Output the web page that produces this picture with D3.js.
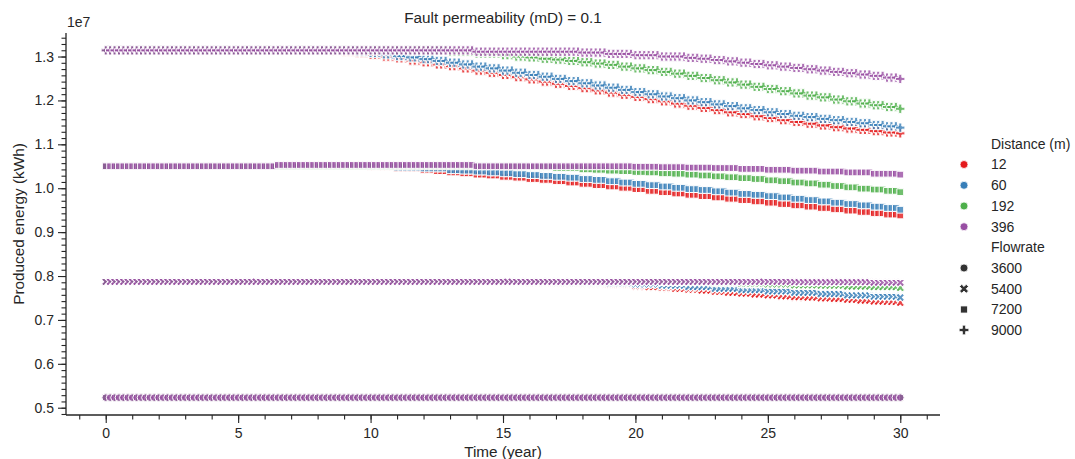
<!DOCTYPE html>
<html>
<head>
<meta charset="utf-8">
<script src="https://cdn.jsdelivr.net/npm/d3@7"></script>
<style>
  body { margin: 0; background: #fff; }
  text { font-family: "Liberation Sans", Arial, sans-serif; fill: #262626; }
</style>
</head>
<body>
<svg id="chart" width="1075" height="459"></svg>
<script>
// ---- categories and axis ticks ----
const distances = [12, 60, 192, 396];            // hue: Distance (m)
const flowrates = [3600, 5400, 7200, 9000];      // style: Flowrate
const distanceColors = ["#e41a1c", "#377eb8", "#4daf4a", "#984ea3"];
const xTickValues = [0, 5, 10, 15, 20, 25, 30];
const yTickValues = [0.5, 0.6, 0.7, 0.8, 0.9, 1.0, 1.1, 1.2, 1.3];
const yTickLabels = ["0.5", "0.6", "0.7", "0.8", "0.9", "1.0", "1.1", "1.2", "1.3"];

// Simulation output is reported every two months over 30 years.
const samplesPerYear = 6;
const simulatedYears = 30;

// Produced energy in units of 1e7 kWh, stored as [year the level starts, level].
// Each level holds until the next entry.
const q3600_d12  = [[0, 0.523], [27, 0.522]];
const q3600_d60  = [[0, 0.523]];
const q3600_d192 = [[0, 0.523]];
const q3600_d396 = [[0, 0.523]];

const q5400_d12  = [[0, 0.787], [15, 0.786], [16, 0.785], [17, 0.784], [18, 0.782], [19, 0.780], [20, 0.777],
                    [20.5, 0.775], [21, 0.773], [21.5, 0.771], [22, 0.769], [22.5, 0.767], [23, 0.764], [23.5, 0.762],
                    [24, 0.760], [24.5, 0.758], [25, 0.756], [25.5, 0.754], [26, 0.752], [26.5, 0.751], [27, 0.749],
                    [27.5, 0.748], [28, 0.746], [28.5, 0.744], [29, 0.742], [29.5, 0.741], [30, 0.739]];
const q5400_d60  = [[0, 0.787], [16, 0.786], [17, 0.785], [18, 0.784], [19, 0.783], [20, 0.781], [21, 0.778],
                    [22, 0.775], [23, 0.771], [24, 0.768], [25, 0.765], [26, 0.762], [27, 0.759], [28, 0.756],
                    [29, 0.753], [30, 0.751]];
const q5400_d192 = [[0, 0.787], [21, 0.786], [22, 0.785], [23, 0.784], [24, 0.782], [25, 0.781], [26, 0.779],
                    [27, 0.778], [28, 0.776], [29, 0.775], [30, 0.773]];
const q5400_d396 = [[0, 0.787], [26, 0.786], [29, 0.785]];

const q7200_d12  = [[0, 1.050], [10, 1.048], [11, 1.045], [12, 1.041], [12.5, 1.039], [13, 1.036], [13.5, 1.034],
                    [14, 1.031], [14.5, 1.029], [15, 1.026], [15.5, 1.024], [16, 1.021], [16.5, 1.019], [17, 1.016],
                    [17.5, 1.013], [18, 1.010], [18.5, 1.007], [19, 1.004], [19.5, 1.001], [20, 0.998], [20.5, 0.994],
                    [21, 0.991], [21.5, 0.988], [22, 0.985], [22.5, 0.982], [23, 0.979], [23.5, 0.976], [24, 0.973],
                    [24.5, 0.970], [25, 0.967], [25.5, 0.964], [26, 0.961], [26.5, 0.958], [27, 0.955], [27.5, 0.952],
                    [28, 0.949], [28.5, 0.946], [29, 0.943], [29.5, 0.940], [30, 0.938]];
const q7200_d60  = [[0, 1.050], [11, 1.047], [12, 1.045], [13, 1.041], [13.5, 1.040], [14, 1.038], [14.5, 1.036],
                    [15, 1.034], [15.5, 1.032], [16, 1.030], [16.5, 1.028], [17, 1.026], [17.5, 1.024], [18, 1.021],
                    [18.5, 1.019], [19, 1.016], [19.5, 1.013], [20, 1.010], [20.5, 1.007], [21, 1.004], [21.5, 1.001],
                    [22, 0.998], [22.5, 0.996], [23, 0.993], [23.5, 0.990], [24, 0.987], [24.5, 0.985], [25, 0.982],
                    [25.5, 0.979], [26, 0.976], [26.5, 0.973], [27, 0.970], [27.5, 0.967], [28, 0.964], [28.5, 0.961],
                    [29, 0.958], [29.5, 0.955], [30, 0.951]];
const q7200_d192 = [[0, 1.050], [16, 1.048], [17, 1.046], [18, 1.043], [18.5, 1.042], [19, 1.040], [19.5, 1.039],
                    [20, 1.037], [20.5, 1.036], [21, 1.034], [21.5, 1.033], [22, 1.031], [22.5, 1.029], [23, 1.027],
                    [23.5, 1.025], [24, 1.023], [24.5, 1.021], [25, 1.018], [25.5, 1.016], [26, 1.013], [26.5, 1.011],
                    [27, 1.008], [27.5, 1.005], [28, 1.002], [28.5, 0.999], [29, 0.997], [29.5, 0.994], [30, 0.991]];
const q7200_d396 = [[0, 1.050], [6.5, 1.053], [14, 1.050], [20, 1.049], [21, 1.048], [22, 1.047], [23, 1.046],
                    [24, 1.044], [25, 1.042], [26, 1.040], [27, 1.038], [28, 1.036], [29, 1.033], [30, 1.031]];

const q9000_d12  = [[0, 1.314], [8.5, 1.313], [9, 1.311], [9.5, 1.308], [10, 1.304], [10.5, 1.300], [11, 1.296],
                    [11.5, 1.291], [12, 1.287], [12.5, 1.282], [13, 1.278], [13.5, 1.273], [14, 1.268], [14.5, 1.263],
                    [15, 1.258], [15.5, 1.253], [16, 1.248], [16.5, 1.243], [17, 1.238], [17.5, 1.233], [18, 1.228],
                    [18.5, 1.223], [19, 1.218], [19.5, 1.213], [20, 1.208], [20.5, 1.203], [21, 1.198], [21.5, 1.193],
                    [22, 1.188], [22.5, 1.183], [23, 1.178], [23.5, 1.173], [24, 1.169], [24.5, 1.164], [25, 1.160],
                    [25.5, 1.155], [26, 1.151], [26.5, 1.147], [27, 1.143], [27.5, 1.139], [28, 1.136], [28.5, 1.133],
                    [29, 1.130], [29.5, 1.127], [30, 1.125]];
const q9000_d60  = [[0, 1.314], [9.5, 1.311], [10, 1.308], [10.5, 1.305], [11, 1.301], [11.5, 1.298], [12, 1.294],
                    [12.5, 1.290], [13, 1.286], [13.5, 1.282], [14, 1.277], [14.5, 1.273], [15, 1.268], [15.5, 1.263],
                    [16, 1.258], [16.5, 1.254], [17, 1.249], [17.5, 1.244], [18, 1.239], [18.5, 1.234], [19, 1.229],
                    [19.5, 1.224], [20, 1.219], [20.5, 1.214], [21, 1.209], [21.5, 1.205], [22, 1.200], [22.5, 1.196],
                    [23, 1.191], [23.5, 1.187], [24, 1.182], [24.5, 1.178], [25, 1.173], [25.5, 1.169], [26, 1.165],
                    [26.5, 1.162], [27, 1.158], [27.5, 1.155], [28, 1.151], [28.5, 1.148], [29, 1.144], [29.5, 1.141],
                    [30, 1.138]];
const q9000_d192 = [[0, 1.314], [13, 1.311], [14, 1.307], [15, 1.303], [15.5, 1.300], [16, 1.298], [16.5, 1.295],
                    [17, 1.293], [17.5, 1.290], [18, 1.287], [18.5, 1.284], [19, 1.281], [19.5, 1.277], [20, 1.273],
                    [20.5, 1.269], [21, 1.265], [21.5, 1.261], [22, 1.256], [22.5, 1.251], [23, 1.246], [23.5, 1.241],
                    [24, 1.236], [24.5, 1.231], [25, 1.226], [25.5, 1.221], [26, 1.216], [26.5, 1.211], [27, 1.207],
                    [27.5, 1.202], [28, 1.198], [28.5, 1.193], [29, 1.189], [29.5, 1.185], [30, 1.181]];
const q9000_d396 = [[0, 1.314], [14, 1.311], [18, 1.309], [19, 1.306], [20, 1.303], [21, 1.300], [22, 1.297],
                    [22.5, 1.295], [23, 1.292], [23.5, 1.289], [24, 1.286], [24.5, 1.283], [25, 1.280], [25.5, 1.277],
                    [26, 1.274], [26.5, 1.271], [27, 1.268], [27.5, 1.265], [28, 1.262], [28.5, 1.259], [29, 1.256],
                    [29.5, 1.252], [30, 1.249]];

// Level lists grouped by distance (draw order: 12 m first, 396 m on top), then flowrate.
const levelsByDistance = [
  [q3600_d12,  q5400_d12,  q7200_d12,  q9000_d12],
  [q3600_d60,  q5400_d60,  q7200_d60,  q9000_d60],
  [q3600_d192, q5400_d192, q7200_d192, q9000_d192],
  [q3600_d396, q5400_d396, q7200_d396, q9000_d396]
];

// ---- layout ----
const svg = d3.select("#chart");
const plot = { left: 66, right: 940, top: 33, bottom: 415 };
const ink = "#262626";
const fontFamily = "'Liberation Sans', Arial, sans-serif";

const x = d3.scaleLinear().domain([-1.5, 31.5]).range([plot.left, plot.right]);
const y = d3.scaleLinear().domain([0.4834, 1.3536]).range([plot.bottom, plot.top]);
const color = d3.scaleOrdinal().domain(distances).range(distanceColors);

// Marker shapes per flowrate: circle, filled X, square, filled plus
const shapeOf = {
  3600: { type: d3.symbolCircle, size: 46, rotate: 0 },
  5400: { type: d3.symbolCross,  size: 46, rotate: 45 },
  7200: { type: d3.symbolSquare, size: 46, rotate: 0 },
  9000: { type: d3.symbolCross,  size: 48, rotate: 0 }
};
const symbolPath = f => d3.symbol().type(shapeOf[f].type).size(shapeOf[f].size)();

// Expand a list of level changes into one record per reporting time.
function seriesPoints(levels, distance, flowrate) {
  const pts = [];
  for (let i = 0; i <= simulatedYears * samplesPerYear; i++) {
    const t = i / samplesPerYear;
    let v = levels[0][1];
    for (const [start, level] of levels) if (start <= t + 1e-9) v = level;
    pts.push({ t, v, distance, flowrate });
  }
  return pts;
}

const points = [];
distances.forEach((d, di) => {
  flowrates.forEach((f, fi) => {
    points.push(...seriesPoints(levelsByDistance[di][fi], d, f));
  });
});

// ---- scatter marks ----
svg.append("g").selectAll("path")
  .data(points)
  .join("path")
  .attr("d", p => symbolPath(p.flowrate))
  .attr("transform", p => `translate(${x(p.t)},${y(p.v)}) rotate(${shapeOf[p.flowrate].rotate})`)
  .attr("fill", p => color(p.distance))
  .attr("fill-opacity", 0.8)
  .attr("stroke", "#fff")
  .attr("stroke-width", 1.0);

// ---- axes ----
const xAxis = svg.append("g").attr("transform", `translate(0,${plot.bottom})`);
xAxis.append("g")
  .call(d3.axisBottom(x).tickValues(d3.range(-1, 32, 1)).tickSize(4.5).tickFormat(""))
  .call(g => g.select(".domain").remove());
xAxis.append("g")
  .call(d3.axisBottom(x).tickValues(xTickValues).tickSize(8).tickPadding(5).tickFormat(d3.format("d")))
  .call(g => g.select(".domain").remove());
xAxis.append("line").attr("x1", plot.left).attr("x2", plot.right).attr("stroke", ink).attr("stroke-width", 1.3);

const yAxis = svg.append("g").attr("transform", `translate(${plot.left},0)`);
const yMinor = d3.range(0.4, 1.4001, 0.1 / 7).filter(v => v >= y.domain()[0] && v <= y.domain()[1]);
yAxis.append("g")
  .call(d3.axisLeft(y).tickValues(yMinor).tickSize(4.5).tickFormat(""))
  .call(g => g.select(".domain").remove());
yAxis.append("g")
  .call(d3.axisLeft(y).tickValues(yTickValues).tickSize(8).tickPadding(4).tickFormat((d, i) => yTickLabels[i]))
  .call(g => g.select(".domain").remove());
yAxis.append("line").attr("y1", plot.top).attr("y2", plot.bottom).attr("stroke", ink).attr("stroke-width", 1.3);

svg.selectAll(".tick line").attr("stroke", ink).attr("stroke-width", 1.1);
svg.selectAll(".tick text").attr("font-size", 14).attr("fill", ink).attr("font-family", fontFamily);

// offset text for the energy axis
svg.append("text").attr("x", plot.left + 1).attr("y", 27).attr("font-size", 14).text("1e7");

// titles
svg.append("text").attr("x", (plot.left + plot.right) / 2).attr("y", 23)
  .attr("text-anchor", "middle").attr("font-size", 15.3).text("Fault permeability (mD) = 0.1");
svg.append("text").attr("x", (plot.left + plot.right) / 2).attr("y", 457)
  .attr("text-anchor", "middle").attr("font-size", 15.3).text("Time (year)");
svg.append("text")
  .attr("transform", `translate(23.5,${(plot.top + plot.bottom) / 2}) rotate(-90)`)
  .attr("text-anchor", "middle").attr("font-size", 15.3).text("Produced energy (kWh)");

// ---- legend ----
const legend = svg.append("g");
const legendTextX = 991, legendMarkX = 964;
const rowY = [144, 164.5, 185.3, 206, 226.7, 247.3, 268, 288.8, 309.5, 330];
const legendRows = [
  { label: "Distance (m)" },
  ...distances.map(d => ({ label: String(d), hue: d })),
  { label: "Flowrate" },
  ...flowrates.map(f => ({ label: String(f), style: f }))
];
legendRows.forEach((r, i) => {
  const gy = rowY[i];
  if (r.hue !== undefined) {
    legend.append("path")
      .attr("d", d3.symbol().type(d3.symbolCircle).size(50)())
      .attr("transform", `translate(${legendMarkX},${gy})`)
      .attr("fill", color(r.hue)).attr("stroke", "#fff").attr("stroke-width", 0.8);
  } else if (r.style !== undefined) {
    legend.append("path")
      .attr("d", d3.symbol().type(shapeOf[r.style].type).size(shapeOf[r.style].size + 4)())
      .attr("transform", `translate(${legendMarkX},${gy}) rotate(${shapeOf[r.style].rotate})`)
      .attr("fill", "#333").attr("stroke", "#fff").attr("stroke-width", 0.8);
  }
  legend.append("text").attr("x", legendTextX)
    .attr("y", gy).attr("dy", "0.35em").attr("font-size", 14).text(r.label);
});
</script>
</body>
</html>
